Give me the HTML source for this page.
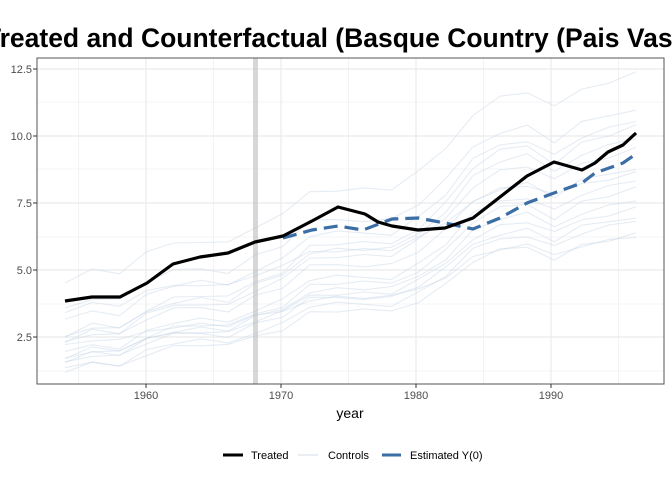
<!DOCTYPE html>
<html><head><meta charset="utf-8"><style>body{margin:0;background:#fff}svg{display:block;font-family:"Liberation Sans",sans-serif}</style></head>
<body>
<svg id="s" width="672" height="480" xmlns="http://www.w3.org/2000/svg">
<rect width="672" height="480" fill="#fff"/>
<text x="353" y="47" text-anchor="middle" font-size="26.5" font-weight="bold" fill="#000">Treated and Counterfactual (Basque Country (Pais Vasco))</text>
<g stroke="#ebebeb" stroke-width="0.6">
<line x1="37" x2="664" y1="102" y2="102"/><line x1="37" x2="664" y1="169" y2="169"/><line x1="37" x2="664" y1="237" y2="237"/><line x1="37" x2="664" y1="304" y2="304"/><line x1="37" x2="664" y1="371" y2="371"/>
<line y1="58" y2="384" x1="78.5" x2="78.5"/><line y1="58" y2="384" x1="213.5" x2="213.5"/><line y1="58" y2="384" x1="348.5" x2="348.5"/><line y1="58" y2="384" x1="483.5" x2="483.5"/><line y1="58" y2="384" x1="618.5" x2="618.5"/>
</g>
<g stroke="#ebebeb" stroke-width="1.2">
<line x1="37" x2="664" y1="69" y2="69"/><line x1="37" x2="664" y1="136" y2="136"/><line x1="37" x2="664" y1="203" y2="203"/><line x1="37" x2="664" y1="270" y2="270"/><line x1="37" x2="664" y1="337" y2="337"/>
<line y1="58" y2="384" x1="146" x2="146"/><line y1="58" y2="384" x1="281" x2="281"/><line y1="58" y2="384" x1="416" x2="416"/><line y1="58" y2="384" x1="551" x2="551"/>
</g>
<g id="ctrl" fill="none" stroke="#c6d4e6" stroke-opacity="0.45" stroke-width="1.1"></g>
<rect x="253" y="58" width="5" height="326" fill="#bdbdbd" opacity="0.6"/>
<polyline fill="none" stroke="#3a6ea5" stroke-width="3.2" stroke-dasharray="14,7" points="283,238 312,230 338,226 363,230 392,219 418,218 445,223 473,229 500,218 527,203 554,193 582,183 595,173 623,163 636,154"/>
<polyline fill="none" stroke="#000" stroke-width="3.2" stroke-linejoin="round" points="65,301 92,297 120,297 147,283 173,264 200,257 228,253 255,242 283,236 312,221 338,207 365,214 378,222 392,226 418,230 445,228 473,218 500,197 527,176 554,162 582,170 595,163 608,152 623,145 636,133"/>
<rect x="37" y="58" width="627" height="326" fill="none" stroke="#555" stroke-width="1"/>
<g font-size="11" fill="#4d4d4d" text-anchor="end">
<text x="32" y="73">12.5</text><text x="32" y="140">10.0</text><text x="32" y="207">7.5</text><text x="32" y="274">5.0</text><text x="32" y="341">2.5</text></g>
<g stroke="#333"><line x1="33" x2="37" y1="69" y2="69"/><line x1="33" x2="37" y1="136" y2="136"/><line x1="33" x2="37" y1="203" y2="203"/><line x1="33" x2="37" y1="270" y2="270"/><line x1="33" x2="37" y1="337" y2="337"/>
<line x1="146" x2="146" y1="384" y2="388"/><line x1="281" x2="281" y1="384" y2="388"/><line x1="416" x2="416" y1="384" y2="388"/><line x1="551" x2="551" y1="384" y2="388"/></g>
<g font-size="11" fill="#4d4d4d" text-anchor="middle"><text x="146" y="399">1960</text><text x="281" y="399">1970</text><text x="416" y="399">1980</text><text x="551" y="399">1990</text></g>
<text x="350" y="418" font-size="14" text-anchor="middle">year</text>
<line x1="223" x2="243" y1="455" y2="455" stroke="#000" stroke-width="3"/><text x="251" y="459" font-size="11">Treated</text>
<line x1="298" x2="318" y1="455" y2="455" stroke="#dde5ef" stroke-width="1.2"/><text x="328" y="459" font-size="11">Controls</text>
<line x1="382" x2="401" y1="455" y2="455" stroke="#3a6ea5" stroke-width="3"/><text x="410" y="459" font-size="11">Estimated Y(0)</text>
</svg>
<script>
var tpl=[4.6,5.0,4.9,5.6,6.0,6.1,6.0,6.6,7.0,7.9,8.0,8.0,8.0,8.6,9.5,10.8,11.4,11.6,11.0,11.7,12.0,12.3];
var c=[[4.6,12.3],[3.6,11.0],[3.1,10.5],[2.55,10.3],[2.5,9.9],[2.4,9.5],[2.35,8.8],[1.9,8.3],[1.75,8.0],[1.7,7.6],[1.65,7.3],[1.6,7.0],[1.3,6.8],[1.25,6.3],[2.2,6.25],[3.5,8.6]];
var g=document.getElementById('ctrl'),ns='http://www.w3.org/2000/svg';
c.forEach(function(p,k){var pts=[];for(var i=0;i<tpl.length;i++){var f=(tpl[i]-4.6)/7.7;var v=p[0]+(p[1]-p[0])*f+((k*7+i*3)%5-2)*0.04;var x=65+i*(636-65)/(tpl.length-1);var y=270-(v-5)*27;pts.push(x.toFixed(1)+','+y.toFixed(1));}
var l=document.createElementNS(ns,'polyline');l.setAttribute('points',pts.join(' '));g.appendChild(l);});
</script>
</body></html>
